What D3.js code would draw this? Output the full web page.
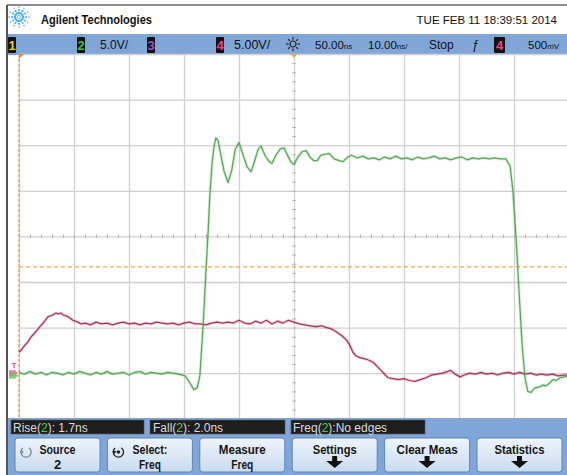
<!DOCTYPE html>
<html><head><meta charset="utf-8">
<script src="https://cdn.jsdelivr.net/npm/d3@7"></script>
<style>
body{margin:0;background:#fff;overflow:hidden;}
svg{display:block;}
text{font-family:"Liberation Sans Narrow","Arial Narrow","Liberation Sans",Arial,sans-serif;}
</style></head><body>
<svg id="c" width="567" height="475"></svg>
<script>
// ---------------- data ----------------
// Channel 2 (green), time in ns, volts
const ch2Time = [0,1,2,3,4,5,6,7,8,9,10,11,12,13,14,15,16,17,18,19,20,21,22,23,24,25,26,27,28,29,
  30.2,31.1,31.8,32.4,32.9,33.5,34.0,34.4,34.7,35.1,35.5,35.8,36.2,36.7,37.3,38.0,38.7,39.3,40.0,40.7,
  41.5,42.2,42.9,43.5,44.0,44.7,45.5,46.0,46.7,47.5,48.2,48.9,49.5,50.0,50.7,51.5,52.2,52.9,53.6,54.2,
  54.9,55.6,56.4,57.3,58.2,58.9,59.8,60.5,61.5,62.5,63.5,64.5,65.5,66.5,67.5,68.5,69.5,70.5,71.5,72.5,
  73.5,74.5,75.5,76.5,77.5,78.5,79.5,80.5,81.5,82.5,83.5,84.5,85.5,86.5,87.5,88.5,89.3,89.8,90.4,90.9,
  91.5,92.0,92.5,93.1,93.8,94.7,95.3,95.8,96.4,97.1,97.7,98.4,99.2,100];
const ch2Volts = [0.1,-0.1,0.2,-0.1,0.1,-0.2,0.1,0.0,-0.2,0.1,-0.1,0.2,0.0,-0.2,0.1,-0.1,0.2,-0.1,0.0,0.1,-0.2,0.1,0.2,-0.1,0.1,0.0,-0.1,0.1,0.0,-0.1,
  -0.3,-1.1,-1.8,-1.6,-0.2,5.5,11.3,15.7,19.5,23.0,25.0,25.8,25.5,23.9,22.1,20.9,22.3,24.5,25.3,24.0,
  22.6,22.1,23.4,24.6,24.9,23.9,23.2,23.0,23.9,24.6,24.7,23.8,23.1,22.9,23.7,24.3,24.4,23.7,23.3,23.3,
  23.9,24.0,24.1,23.5,23.3,23.2,23.7,23.9,23.6,23.8,23.5,23.6,23.4,23.7,23.5,23.8,23.5,23.6,23.4,23.7,
  23.5,23.6,23.8,23.5,23.6,23.4,23.6,23.7,23.4,23.6,23.5,23.6,23.5,23.6,23.5,23.5,22.7,20.0,14.6,9.1,
  2.9,-0.5,-2.0,-2.1,-1.6,-1.5,-1.3,-1.4,-1.1,-0.7,-0.8,-0.5,-0.4,-0.3];

// Channel 4 (magenta), time in ns, volts
const ch4Time = [0,0.5,1.1,1.6,2.2,2.7,3.3,3.8,4.4,4.9,5.3,5.8,6.2,6.7,7.1,7.6,8.0,8.5,8.9,9.4,9.8,10.3,10.7,11.3,
  12,13,14,15,16,17,18,19,20,21,22,23,24,25,26,27,28,29,30,31,32,33,34,35,36,37,38,39,40,41,42,43,44,45,46,47,48,49,50,51,
  52,53,54,55,56,57,57.8,58.7,59.6,60.2,60.7,61.3,62,62.7,63.3,64.4,65.2,66,66.6,67.1,68,69,70,71,72,73,74,75,76,77,78,78.5,79.3,80.2,
  81,82,83,84,85,86,87,88,89,90,91,92,93,94,95,96,97,98,99,100];
const ch4Volts = [2.3,2.6,3.1,3.4,4.0,4.3,4.7,5.1,5.5,5.9,6.2,6.3,6.4,6.6,6.5,6.6,6.4,6.3,6.2,6.0,5.8,5.7,5.6,5.4,
  5.5,5.3,5.6,5.4,5.5,5.3,5.5,5.6,5.4,5.5,5.3,5.5,5.4,5.6,5.5,5.4,5.5,5.3,5.5,5.6,5.4,5.4,5.3,5.5,5.6,5.5,5.6,5.5,5.8,5.5,5.4,5.7,5.5,5.8,5.4,5.7,5.5,5.8,5.6,5.4,
  5.3,5.2,5.1,5.2,5.0,4.8,4.5,4.1,3.6,3.0,2.3,1.9,1.7,1.6,1.5,1.2,0.7,0.2,-0.2,-0.5,-0.6,-0.7,-0.6,-0.8,-0.9,-0.7,-0.5,-0.2,-0.1,0.0,0.2,0.3,-0.1,-0.4,
  -0.2,0.0,-0.1,0.1,-0.1,0.0,-0.2,0.0,0.1,-0.1,0.1,-0.1,0.0,-0.2,-0.1,-0.2,-0.1,-0.3,-0.2,-0.2];

// settings / labels
const timeDomain = [0, 100];          // ns across screen (10 ns/div)
const divDomain = [-4, 4];            // vertical divisions
const gridTimes = [0,10,20,30,40,50,60,70,80,90,100];
const gridDivs = [-4,-3,-2,-1,0,1,2,3,4];
const minorTimes = d3.range(0, 101, 2);
const minorDivs = d3.range(-4, 4.01, 0.2);
const voltsPerDiv = {ch2: 5, ch4: 5};
const groundDiv = {ch2: -3, ch4: -3};
const trigLevelDiv = -0.67;

const headerTitle = "Agilent Technologies";
const headerDate = "TUE FEB 11 18:39:51 2014";
const measures = [
  {pre:"Rise(", ch:"2", post:"): 1.7ns"},
  {pre:"Fall(", ch:"2", post:"): 2.0ns"},
  {pre:"Freq(", ch:"2", post:"):No edges"}
];
const buttons = [
  {l1:"Source", l2:"2", icon:"rot"},
  {l1:"Select:", l2:"Freq", icon:"sel"},
  {l1:"Measure", l2:"Freq", icon:null},
  {l1:"Settings", l2:null, icon:"down"},
  {l1:"Clear Meas", l2:null, icon:"down"},
  {l1:"Statistics", l2:null, icon:"down"}
];

// ---------------- drawing ----------------
const svg = d3.select("#c");
const W = 567, H = 475;
const L = 19, R = 569, T = 54, B = 418.8;
const x = d3.scaleLinear().domain(timeDomain).range([L, R]);
const y = d3.scaleLinear().domain(divDomain).range([B, T]);
const BLUE = "#80a6d8";

svg.append("rect").attr("width", W).attr("height", H).attr("fill", "#fff");

function txt(x0, yb, s, size, w, opts = {}) {
  const t = svg.append("text").attr("x", x0).attr("y", yb).attr("font-size", size)
    .attr("fill", opts.fill || "#111").text(s);
  if (w) t.attr("textLength", w).attr("lengthAdjust", "spacingAndGlyphs");
  if (opts.bold) t.attr("font-weight", "bold");
  if (opts.anchor) t.attr("text-anchor", opts.anchor);
  return t;
}
function unitText(x0, yb, main, unit) {
  const t = svg.append("text").attr("x", x0).attr("y", yb).attr("font-size", 11.5).attr("fill", "#111");
  t.append("tspan").text(main);
  t.append("tspan").attr("font-size", 8).text(unit);
  return t;
}

// header
const logo = svg.append("g").attr("transform", "translate(19,17)");
for (let i = 0; i < 12; i++) {
  const a = i * Math.PI / 6;
  [[4,1.3],[7,1.1],[10,0.8]].forEach(([r, s]) => {
    logo.append("circle").attr("cx", r*Math.cos(a)).attr("cy", r*Math.sin(a)).attr("r", s).attr("fill", "#4fb0e3");
  });
}
logo.append("circle").attr("r", 1.6).attr("fill", "#fff").attr("stroke","#4fb0e3").attr("stroke-width",0.8);
txt(41, 24, headerTitle, 13, 111, {bold: true});
txt(557, 24, headerDate, 11.5, null, {anchor: "end"});

// top status bar
svg.append("rect").attr("x", 7).attr("y", 34).attr("width", W-7).attr("height", 21).attr("fill", BLUE);
function chBox(x0, w, label, col) {
  svg.append("rect").attr("x", x0).attr("y", 37).attr("width", w).attr("height", 16).attr("fill", "#111").attr("rx",1);
  svg.append("text").attr("x", x0 + w/2).attr("y", 50).attr("text-anchor", "middle").attr("font-size", 13)
    .attr("font-weight","bold").attr("fill", col).text(label);
}
chBox(8, 8, "1", "#e6d900");
chBox(77, 8, "2", "#3fc43f");
chBox(147, 8, "3", "#a050d0");
chBox(216, 8, "4", "#ff4080");
chBox(494, 11, "4", "#ff4080");
txt(100, 49, "5.0V/", 12, null);
txt(234, 49, "5.00V/", 12.5, null);
unitText(315, 49, "50.00", "ns");
unitText(368, 49, "10.00", "ns/");
txt(429, 49, "Stop", 12, null);
unitText(528, 49, "500", "mV");
txt(475, 49, "ƒ", 13, null, {anchor: "middle"}).attr("font-style", "italic");
// sun icon
const sun = svg.append("g").attr("transform", "translate(293,44)");
sun.append("circle").attr("r", 3).attr("fill", "none").attr("stroke", "#222").attr("stroke-width", 1.2);
for (let i = 0; i < 8; i++) {
  const a = i * Math.PI / 4;
  sun.append("line").attr("x1", 4.5*Math.cos(a)).attr("y1", 4.5*Math.sin(a)).attr("x2", 7*Math.cos(a)).attr("y2", 7*Math.sin(a))
    .attr("stroke", "#222").attr("stroke-width", 1.2);
}

// grid
const gridG = svg.append("g");
gridG.append("g").attr("transform", `translate(0,${B})`)
  .call(d3.axisBottom(x).tickValues(gridTimes).tickSize(-(B-T)).tickFormat(""));
gridG.append("g").attr("transform", `translate(${L},0)`)
  .call(d3.axisLeft(y).tickValues(gridDivs).tickSize(-(R-L)).tickFormat(""));
gridG.selectAll(".domain").remove();
gridG.selectAll(".tick line").attr("stroke", "#cfcfcf").attr("stroke-width", 1.3);
const mx = gridG.append("g").attr("transform", `translate(0,${y(0)-2})`)
  .call(d3.axisBottom(x).tickValues(minorTimes).tickSize(4).tickFormat(""));
const my = gridG.append("g").attr("transform", `translate(${x(50)-2},0)`)
  .call(d3.axisRight(y).tickValues(minorDivs).tickSize(4).tickFormat(""));
mx.select(".domain").remove(); my.select(".domain").remove();
mx.selectAll(".tick line").attr("stroke", "#b5b5b5").attr("stroke-width", 1);
my.selectAll(".tick line").attr("stroke", "#b5b5b5").attr("stroke-width", 1);

// trigger markers
svg.append("line").attr("x1", x(0)).attr("x2", x(0)).attr("y1", T).attr("y2", B)
  .attr("stroke", "#e8954a").attr("stroke-width", 1.2).attr("stroke-dasharray", "3,2");
svg.append("line").attr("x1", L).attr("x2", R).attr("y1", y(trigLevelDiv)).attr("y2", y(trigLevelDiv))
  .attr("stroke", "#f4a640").attr("stroke-width", 1.2).attr("stroke-dasharray", "4,3");
svg.append("path").attr("d", `M${x(0)},${T} l5,0 l-5,5 z`).attr("fill", "#f08a30");
svg.append("path").attr("d", `M${x(50)-3},${T} l6,0 l-3,4 z`).attr("fill", "#f0a050");

// traces
function trace(times, volts, ch, col) {
  const pts = times.map((t, i) => [t, volts[i]]);
  const line = d3.line().x(d => x(d[0])).y(d => y(d[1] / voltsPerDiv[ch] + groundDiv[ch]));
  svg.append("path").datum(pts).attr("d", line).attr("fill", "none")
    .attr("stroke", col).attr("stroke-opacity", 0.2).attr("stroke-width", 3).attr("stroke-linejoin","round");
  svg.append("path").datum(pts).attr("d", line).attr("fill", "none")
    .attr("stroke", col).attr("stroke-width", 1.25).attr("stroke-linejoin","round");
}
trace(ch4Time, ch4Volts, "ch4", "#ad2f5c");
trace(ch2Time, ch2Volts, "ch2", "#52a852");

// ground markers at left
const g4 = y(groundDiv.ch4), g2 = y(groundDiv.ch2);
svg.append("text").attr("x", 14).attr("y", g4 - 5).attr("font-size", 8).attr("fill", "#ff3d8a").attr("text-anchor","middle").attr("font-weight","bold").text("T");
svg.append("path").attr("d", `M9,${g4-3} l6,0 l3,3 l-3,3 l-6,0 z`).attr("fill", "#ff5c9a").attr("opacity",0.85);
svg.append("path").attr("d", `M9,${g2-0.5} l6,0 l3,3 l-3,3 l-6,0 z`).attr("fill", "#6cc46c").attr("opacity",0.85);

// bottom area
svg.append("rect").attr("x", 7).attr("y", 418).attr("width", W-7).attr("height", H-418).attr("fill", BLUE);
const mBoxes = [[11,133,13],[150,135,153],[291,134,293]];
measures.forEach((m, i) => {
  const [bx, bw, px] = mBoxes[i];
  svg.append("rect").attr("x", bx).attr("y", 420).attr("width", bw).attr("height", 14).attr("fill", "#1e1e1e")
    .attr("stroke", "#555").attr("stroke-width", 0.6);
  const t = svg.append("text").attr("x", px).attr("y", 432).attr("font-size", 12).attr("fill", "#dcdcdc");
  t.append("tspan").text(m.pre);
  t.append("tspan").attr("fill", "#4ccc4c").text(m.ch);
  t.append("tspan").text(m.post);
});
const defs = svg.append("defs");
const grad = defs.append("linearGradient").attr("id", "btn").attr("x1", 0).attr("x2", 0).attr("y1", 0).attr("y2", 1);
grad.append("stop").attr("offset", "0%").attr("stop-color", "#eef4fb");
grad.append("stop").attr("offset", "100%").attr("stop-color", "#c9dbef");
const btnW = {"Source":36,"Select:":35,"Measure":47,"Settings":44,"Clear Meas":61,"Statistics":50,"Freq":22,"2":6};
buttons.forEach((b, i) => {
  const bx = 15 + i * 92.4, cx = bx + 42.5;
  svg.append("rect").attr("x", bx).attr("y", 438).attr("width", 85).attr("height", 34).attr("rx", 3)
    .attr("fill", "url(#btn)").attr("stroke", "#5f85b8").attr("stroke-width", 1);
  txt(cx, 454, b.l1, 13, btnW[b.l1], {anchor: "middle", fill: "#151515"}).attr("font-weight", 600);
  if (b.l2) txt(cx, 469, b.l2, 13, b.l2.length > 1 ? btnW[b.l2] : null, {anchor: "middle", fill: "#151515"}).attr("font-weight", 600);
  if (b.icon === "down") {
    svg.append("path").attr("d", `M${cx-2.5},456 h5 v5 h6 l-8.5,7 l-8.5,-7 h6 z`).attr("fill", "#111");
  } else if (b.icon === "rot" || b.icon === "sel") {
    const ix = bx + 11, iy = 452, col = b.icon === "rot" ? "#7a8a9a" : "#222";
    svg.append("path").attr("d", d3.arc()({innerRadius: 4.5, outerRadius: 5.8, startAngle: 0.6, endAngle: 5.6}))
      .attr("transform", `translate(${ix},${iy})`).attr("fill", col);
    svg.append("path").attr("d", `M${ix-6},${iy-1} l4,0 l-2,3 z`).attr("fill", col);
    if (b.icon === "sel") svg.append("circle").attr("cx", ix).attr("cy", iy).attr("r", 1.8).attr("fill", col);
  }
});

// borders
svg.append("line").attr("x1", 7).attr("x2", W).attr("y1", 5).attr("y2", 5).attr("stroke", "#666").attr("stroke-width", 1.5);
svg.append("line").attr("x1", 7).attr("x2", 7).attr("y1", 5).attr("y2", H).attr("stroke", "#555").attr("stroke-width", 2);
</script>
</body></html>
